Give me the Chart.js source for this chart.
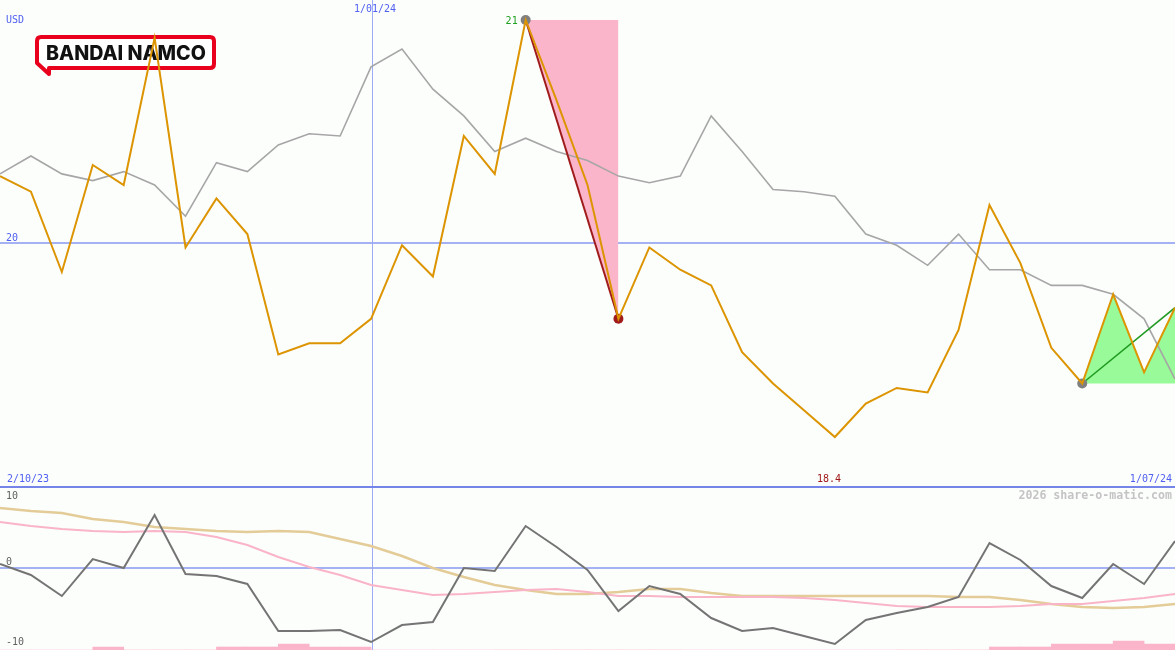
<!DOCTYPE html>
<html>
<head>
<meta charset="utf-8">
<script src="https://cdn.jsdelivr.net/npm/chart.js@4/dist/chart.umd.min.js"></script>
<style>
  html, body { margin: 0; padding: 0; background: #fcfefc; }
  #wrap { position: relative; width: 1175px; height: 650px; overflow: hidden; }
  #top { position: absolute; left: 0; top: 0; }
  #bottom { position: absolute; left: 0; top: 488px; }
</style>
</head>
<body>
<div id="wrap">
  <canvas id="top" width="1175" height="488"></canvas>
  <canvas id="bottom" width="1175" height="162"></canvas>
</div>
<script>
// weekly closes (USD) and their moving average
const price = [20.30, 20.23, 19.87, 20.35, 20.26, 20.92, 19.98, 20.20, 20.04, 19.50,
               19.55, 19.55, 19.66, 19.99, 19.85, 20.48, 20.31, 21.00, 20.64, 20.26,
               19.66, 19.98, 19.88, 19.81, 19.51, 19.37, 19.25, 19.13, 19.28, 19.35,
               19.33, 19.61, 20.17, 19.91, 19.53, 19.37, 19.77, 19.42, 19.71];
const average = [20.31, 20.39, 20.31, 20.28, 20.32, 20.26, 20.12, 20.36, 20.32, 20.44,
                 20.49, 20.48, 20.79, 20.87, 20.69, 20.57, 20.41, 20.47, 20.41, 20.37,
                 20.30, 20.27, 20.30, 20.57, 20.41, 20.24, 20.23, 20.21, 20.04, 19.99,
                 19.90, 20.04, 19.88, 19.88, 19.81, 19.81, 19.77, 19.66, 19.39];

// oscillator panel
const momentum = [0.55, -0.96, -3.84, 1.23, 0, 7.26, -0.82, -1.10, -2.19, -8.63,
                  -8.63, -8.49, -10.14, -7.81, -7.40, 0, -0.41, 5.75, 2.88, -0.27,
                  -5.89, -2.47, -3.56, -6.85, -8.63, -8.22, -9.32, -10.41, -7.12, -6.16,
                  -5.34, -3.97, 3.42, 1.10, -2.47, -4.11, 0.55, -2.19, 3.70];
const slowLine = [8.22, 7.81, 7.53, 6.71, 6.30, 5.62, 5.34, 5.07, 4.93, 5.07,
                  4.93, 3.97, 3.01, 1.64, 0, -1.23, -2.33, -3.01, -3.56, -3.56,
                  -3.29, -2.88, -2.88, -3.42, -3.84, -3.84, -3.84, -3.84, -3.84, -3.84,
                  -3.84, -3.97, -3.97, -4.38, -4.93, -5.34, -5.48, -5.34, -4.93];
const fastLine = [6.30, 5.75, 5.34, 5.07, 4.93, 5.07, 4.93, 4.25, 3.15, 1.51,
                  0.14, -0.96, -2.33, -3.01, -3.70, -3.56, -3.29, -3.01, -2.88, -3.29,
                  -3.84, -3.84, -3.97, -3.97, -3.97, -3.97, -4.11, -4.38, -4.79, -5.21,
                  -5.34, -5.34, -5.34, -5.21, -4.93, -4.93, -4.52, -4.11, -3.56];
const volume = [0, 0, 0, 3, 0, 0, 0, 3, 3, 6,
                3, 3, 0, 0, 0, 0, 0, 0, 0, 0,
                0, 0, 0, 0, 0, 0, 0, 0, 0, 0,
                0, 0, 3, 3, 6, 6, 9, 6, 0];

// swing markers: high, low, later low
const swingHigh = 17, swingLow = 20, lastLow = 35, lastIdx = 38;
const yearMark = 12;
const dateLabels = ['2/10/23', '1/01/24', '1/07/24'];
const priceTick = 20;
const oscTicks = [10, 0, -10];
const stopLabel = '18.4';

const xs = price.map((_, i) => i);
const pts = arr => arr.map((v, i) => ({ x: i, y: v }));

const mono = '"DejaVu Sans Mono", monospace';
const blueText = '#5060f0';
const gridBlue = '#a4b2f4';

function vline(chart, idx) {
    const { ctx, chartArea, scales } = chart;
    const x = Math.ceil(scales.x.getPixelForValue(idx)) + 0.5;
    ctx.save();
    ctx.strokeStyle = '#9eaaf6';
    ctx.lineWidth = 1;
    ctx.beginPath();
    ctx.moveTo(x, chartArea.top);
    ctx.lineTo(x, chartArea.bottom);
    ctx.stroke();
    ctx.restore();
}

function hline(chart, scaleId, v) {
    const { ctx, chartArea, scales } = chart;
    const y = Math.round(scales[scaleId].getPixelForValue(v));
    ctx.save();
    ctx.strokeStyle = gridBlue;
    ctx.lineWidth = 2;
    ctx.beginPath();
    ctx.moveTo(chartArea.left, y);
    ctx.lineTo(chartArea.right, y);
    ctx.stroke();
    ctx.restore();
}

function text(ctx, s, x, y, color, align, font) {
    ctx.save();
    ctx.font = font || ('10px ' + mono);
    ctx.fillStyle = color;
    ctx.textAlign = align || 'left';
    ctx.textBaseline = 'middle';
    ctx.fillText(s, x, y);
    ctx.restore();
}

function drawLogo(ctx) {
    const l = 37, t = 37, r = 214, b = 68, rad = 4;
    ctx.save();
    ctx.beginPath();
    ctx.moveTo(l + rad, t);
    ctx.lineTo(r - rad, t);
    ctx.quadraticCurveTo(r, t, r, t + rad);
    ctx.lineTo(r, b - rad);
    ctx.quadraticCurveTo(r, b, r - rad, b);
    ctx.lineTo(49, b);
    ctx.lineTo(49, 74);
    ctx.lineTo(l, 63);
    ctx.lineTo(l, t + rad);
    ctx.quadraticCurveTo(l, t, l + rad, t);
    ctx.closePath();
    ctx.fillStyle = '#ffffff';
    ctx.fill();
    ctx.lineWidth = 4;
    ctx.lineJoin = 'round';
    ctx.strokeStyle = '#e8001c';
    ctx.stroke();
    // brand text
    const label = 'BANDAI NAMCO';
    ctx.font = '800 20px Inter';
    const w = ctx.measureText(label).width;
    const size = 20 * 160 / w;
    ctx.font = '800 ' + size.toFixed(2) + 'px Inter';
    ctx.fillStyle = '#111111';
    ctx.textBaseline = 'alphabetic';
    ctx.fillText(label, 46, 59.5);
    ctx.restore();
}

const topDecor = {
    id: 'topDecor',
    beforeDatasetsDraw(chart) {
        const { ctx } = chart;
        hline(chart, 'y', priceTick);
        vline(chart, yearMark);
        drawLogo(ctx);
    },
    afterDatasetsDraw(chart) {
        const { ctx, chartArea, scales } = chart;
        ctx.save();
        ctx.strokeStyle = '#7484e8';
        ctx.lineWidth = 2;
        ctx.beginPath();
        ctx.moveTo(chartArea.left, chartArea.bottom - 1);
        ctx.lineTo(chartArea.right, chartArea.bottom - 1);
        ctx.stroke();
        ctx.restore();
        const yTick = scales.y.getPixelForValue(priceTick);
        text(ctx, 'USD', 6, 20, blueText);
        text(ctx, String(priceTick), 6, yTick - 5, blueText);
        text(ctx, dateLabels[1], scales.x.getPixelForValue(yearMark) + 4, 9, blueText, 'center');
        text(ctx, dateLabels[0], 7, 479, blueText);
        text(ctx, dateLabels[2], 1172, 479, blueText, 'right');
        text(ctx, stopLabel, 829, 479, '#a01818', 'center');
        text(ctx, price[swingHigh].toFixed(0), scales.x.getPixelForValue(swingHigh) - 8,
             scales.y.getPixelForValue(price[swingHigh]) + 1, '#20a020', 'right');
    }
};

const bottomDecor = {
    id: 'bottomDecor',
    beforeDatasetsDraw(chart) {
        hline(chart, 'y', 0);
        vline(chart, yearMark);
    },
    afterDatasetsDraw(chart) {
        const { ctx, scales } = chart;
        oscTicks.forEach(v => {
            text(ctx, String(v), 6, scales.y.getPixelForValue(v) + (v === 0 ? -6 : 1), '#606060');
        });
        text(ctx, '2026 share-o-matic.com', 1172, 8, '#c4c4c4', 'right', 'bold 11.6px ' + mono);
    }
};

const lineDefaults = { pointRadius: 0, fill: false, tension: 0, borderJoinStyle: 'miter' };

// top panel: price
new Chart(document.getElementById('top'), {
    type: 'line',
    data: {
        datasets: [
            { ...lineDefaults, label: 'Close', data: pts(price), borderColor: '#dc9400', borderWidth: 2, order: 0 },
            { ...lineDefaults, label: 'Swing points', showLine: false,
              data: [swingHigh, swingLow, lastLow].map(i => ({ x: i, y: price[i] })),
              pointRadius: 5, pointBorderWidth: 0,
              pointBackgroundColor: ['#808080', '#a01c1c', '#808080'], order: 1 },
            { ...lineDefaults, label: 'Rise', data: [{ x: lastLow, y: price[lastLow] }, { x: lastIdx, y: price[lastIdx] }],
              borderColor: '#209a20', borderWidth: 1.5, order: 2 },
            { ...lineDefaults, label: 'Drop', data: [{ x: swingHigh, y: price[swingHigh] }, { x: swingLow, y: price[swingLow] }],
              borderColor: '#a01c1c', borderWidth: 2, order: 3 },
            { ...lineDefaults, label: 'Average', data: pts(average), borderColor: '#a6a6a6', borderWidth: 1.6, order: 4 },
            { ...lineDefaults, label: 'Drop zone', data: [{ x: swingHigh, y: price[swingHigh] }, { x: swingLow, y: price[swingHigh] }],
              borderWidth: 0, borderColor: 'rgba(0,0,0,0)', backgroundColor: '#fbb5cb', fill: 3, order: 5 },
            { ...lineDefaults, label: 'Rise zone', data: pts(price).slice(lastLow),
              borderWidth: 0, borderColor: 'rgba(0,0,0,0)', backgroundColor: '#98fa98',
              fill: { value: price[lastLow] }, order: 5 }
        ]
    },
    options: {
        responsive: false,
        animation: false,
        layout: { padding: 0, autoPadding: false },
        scales: {
            x: { type: 'linear', min: 0, max: xs.length - 1, display: false },
            y: { min: 21 + 20 / 223 - 488 / 223, max: 21 + 20 / 223, display: false }
        },
        plugins: { legend: { display: false }, tooltip: { enabled: false } }
    },
    plugins: [topDecor]
});

// bottom panel: oscillator
new Chart(document.getElementById('bottom'), {
    type: 'line',
    data: {
        datasets: [
            { ...lineDefaults, label: 'Momentum', data: pts(momentum), borderColor: '#747474', borderWidth: 2, order: 0 },
            { ...lineDefaults, label: 'Fast', data: pts(fastLine), borderColor: '#f9b4c8', borderWidth: 2, order: 1 },
            { ...lineDefaults, label: 'Slow', data: pts(slowLine), borderColor: '#e4cc98', borderWidth: 2.5, order: 2 },
            { type: 'bar', label: 'Volume', data: volume.map((v, i) => ({ x: i + 0.5, y: v })),
              yAxisID: 'yv', backgroundColor: '#fbb5cb', barPercentage: 1, categoryPercentage: 1,
              borderWidth: 0, order: 3 }
        ]
    },
    options: {
        responsive: false,
        animation: false,
        layout: { padding: 0, autoPadding: false },
        scales: {
            x: { type: 'linear', min: 0, max: xs.length - 1, display: false, offset: false },
            y: { min: -82 / 7.3, max: 80 / 7.3, display: false },
            yv: { min: 0, max: 162, display: false }
        },
        plugins: { legend: { display: false }, tooltip: { enabled: false } }
    },
    plugins: [bottomDecor]
});
</script>
</body>
</html>
